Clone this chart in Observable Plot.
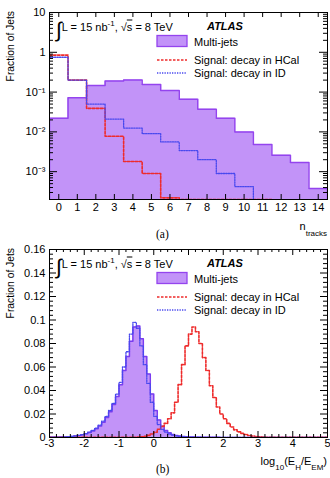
<!DOCTYPE html>
<html><head><meta charset="utf-8">
<script src="https://cdn.jsdelivr.net/npm/d3@7"></script>
<script src="https://cdn.jsdelivr.net/npm/@observablehq/plot@0.6"></script>
<style>
body{margin:0;background:#fff;font-family:"Liberation Sans",Arial,sans-serif;}
#wrap{position:relative;width:330px;height:478px;overflow:hidden;background:#fff}
#wrap svg.plot{position:absolute;left:0}
.t{position:absolute;white-space:nowrap;line-height:1;font-size:11px;color:#000;transform:translateY(-50%)}
.yt{position:absolute;white-space:nowrap;line-height:1;font-size:10.3px;transform-origin:0 0;transform:rotate(-90deg) translateX(-100%)}
.serif{font-family:"Liberation Serif","Times New Roman",serif}
sub,sup{font-size:8px;line-height:0}
</style></head><body><div id="wrap"></div>
<script>
// ---------- Panel (a): number of tracks ----------
const nTracks = [0,1,2,3,4,5,6,7,8,9,10,11,12,13,14];
const multiJetsA = [0.022,0.072,0.147,0.19,0.2,0.155,0.11,0.066,0.037,0.022,0.010,0.0048,0.0026,0.0017,0.00038];
const hcalA = [0.85,0.2,0.039,0.0078,0.0018,0.0009,0.00022,0.0002,0.0002,0.0002,0.0002,0.0002];
const idA = [0.75,0.2,0.05,0.021,0.0125,0.009,0.0056,0.0034,0.002,0.0009,0.00042];
const yTicksA = [1e-3,1e-2,1e-1,1,10];
const yTickLabelsA = ["10\u207B\u00B3","10\u207B\u00B2","10\u207B\u00B9","1","10"];

// ---------- Panel (b): log10(EH/EEM) ----------
const binStartB = d3.range(80).map(i => Math.round((-3 + i*0.1)*10)/10);
const multiJetsB = [
 0.0002,0.0003,0.0003,0.0004,0.0005,0.0007,0.0009,0.0012,0.0017,0.0023,
 0.0031,0.0042,0.0056,0.0075,0.0098,0.013,0.017,0.022,0.028,0.035,
 0.045,0.057,0.069,0.082,0.094,0.095,0.084,0.069,0.054,0.037,
 0.023,0.015,0.0095,0.006,0.004,0.0025,0.0017,0.0012,0.0009,0.0007,
 0.0005,0.0004,0.0003,0.0003,0.00025,0.0002,0.00018,0.00015,0.00012,0.0001,
 0.0001,0.00009,0.00008,0.00007,0.00006,0.00005,0.00005,0.00004,0.00004,0.00003,
 0.00003,0.00003,0.00002,0.00002,0.00002,0.00002,0.00002,0.00001,0.00001,0.00001,
 0.00001,0.00001,0.00001,0.00001,0.00001,0.00001,0.00001,0.00001,0.00001,0.00001];
const idB = [
 0.0002,0.0003,0.0003,0.0004,0.0005,0.0007,0.0009,0.0013,0.0018,0.0025,
 0.0033,0.0045,0.006,0.008,0.0105,0.014,0.018,0.023,0.029,0.037,
 0.047,0.06,0.073,0.088,0.098,0.093,0.078,0.062,0.046,0.03,
 0.018,0.011,0.007,0.0045,0.003,0.002,0.0014,0.001,0.0007,0.0005,
 0.0004,0.0003,0.00025,0.0002,0.00015,0.00012,0.0001,0.00008,0.00006,0.00005,
 0.00004,0.00004,0.00003,0.00003,0.00002,0.00002,0.00002,0.00001,0.00001,0.00001,
 0.00001,0.00001,0.00001,0.00001,0.00001,0.00001,0.00001,0.00001,0.00001,0.00001,
 0.00001,0.00001,0.00001,0.00001,0.00001,0.00001,0.00001,0.00001,0.00001,0.00001];
const hcalB = [
 0.0001,0.0001,0.0001,0.0001,0.0001,0.0001,0.0001,0.0001,0.0001,0.0001,
 0.0001,0.0001,0.0001,0.0001,0.0001,0.0001,0.0001,0.0001,0.0001,0.0001,
 0.0001,0.0001,0.0001,0.0001,0.0002,0.0003,0.0006,0.001,0.0018,0.003,
 0.0045,0.007,0.0095,0.012,0.016,0.021,0.03,0.045,0.062,0.078,
 0.088,0.094,0.09,0.08,0.068,0.057,0.044,0.034,0.026,0.02,
 0.016,0.012,0.009,0.0065,0.0048,0.0035,0.0025,0.0017,0.0012,0.0008,
 0.0005,0.0003,0.0002,0.0002,0.0001,0.0001,0.0001,0.0001,0.0001,0.0001,
 0.0001,0.0001,0.0001,0.0001,0.0001,0.0001,0.0001,0.0001,0.0001,0.0001];
const xTicksB = [-3,-2,-1,0,1,2,3,4,5];
const yTicksB = [0,0.02,0.04,0.06,0.08,0.1,0.12,0.14,0.16];
const yTickLabelsB = ["0","0.02","0.04","0.06","0.08","0.1","0.12","0.14","0.16"];

// colours & line styles
const fillMJ = "#c293f8", strokeMJ = "#9444ee", red = "#ee2b2b", blue = "#4848ee";
const redDash = "2.5,1.5", blueDash = "1.3,1.2";

function stepPts(starts, vals, width, floor, closeStart, closeEnd) {
  const pts = [];
  if (closeStart) pts.push({x: starts[0], y: floor});
  vals.forEach((v, i) => pts.push({x: starts[i], y: v}));
  const xe = starts[vals.length - 1] + width;
  pts.push({x: xe, y: vals[vals.length - 1]});
  if (closeEnd) pts.push({x: xe, y: floor});
  return pts;
}

const W = 330;
const font = {fontFamily: "'Liberation Sans', Arial, sans-serif", fontSize: "11px", background: "transparent"};

// ----- Plot (a) -----
const mA = {top: 12, bottom: 41, left: 49, right: 3}, HA = 240;
const fwA = W - mA.left - mA.right, fhA = HA - mA.top - mA.bottom;
const floorA = 2e-4;
const edgesA = nTracks.map(n => n - 0.5);
const mjPtsA = stepPts(edgesA, multiJetsA, 1, floorA, true, true);
const hcPtsA = stepPts(edgesA, hcalA, 1, floorA, false, true);
const idPtsA = stepPts(edgesA, idA, 1, floorA, false, true);
const minorA = [];
[1e-4,1e-3,1e-2,1e-1,1].forEach(d => [2,3,4,5,6,7,8,9].forEach(k => { const v = d*k; if (v > floorA && v < 10) minorA.push(v); }));

const plotA = Plot.plot({
  width: W, height: HA,
  marginTop: mA.top, marginBottom: mA.bottom, marginLeft: mA.left, marginRight: mA.right,
  style: font,
  x: {domain: [-0.5, 14.5], axis: null},
  y: {type: "log", domain: [floorA, 10], axis: null},
  marks: [
    Plot.areaY(mjPtsA, {x: "x", y1: floorA, y2: "y", curve: "step-after", fill: fillMJ, clip: true}),
    Plot.line(mjPtsA, {x: "x", y: "y", curve: "step-after", stroke: strokeMJ, strokeWidth: 1.5, clip: true}),
    Plot.line(hcPtsA, {x: "x", y: "y", curve: "step-after", stroke: red, strokeWidth: 1.6, strokeDasharray: redDash, clip: true}),
    Plot.line(idPtsA, {x: "x", y: "y", curve: "step-after", stroke: blue, strokeWidth: 1.3, strokeDasharray: blueDash, clip: true}),
    Plot.ruleX(nTracks, {x: d => d, insetTop: fhA - 5, stroke: "#000"}),
    Plot.ruleX(nTracks, {x: d => d, insetBottom: fhA - 5, stroke: "#000"}),
    Plot.ruleY(yTicksA.filter(d => d < 10), {y: d => d, insetRight: fwA - 8, stroke: "#000"}),
    Plot.ruleY(yTicksA.filter(d => d < 10), {y: d => d, insetLeft: fwA - 8, stroke: "#000"}),
    Plot.ruleY(minorA, {y: d => d, insetRight: fwA - 4, stroke: "#000"}),
    Plot.ruleY(minorA, {y: d => d, insetLeft: fwA - 4, stroke: "#000"}),
    Plot.frame({stroke: "#000", strokeWidth: 1}),
    Plot.axisX({ticks: nTracks, tickSize: 0, tickPadding: 4, tickFormat: d => String(d), label: null}),
    Plot.axisY({ticks: yTicksA, tickSize: 0, tickPadding: 4, tickFormat: d => yTickLabelsA[yTicksA.indexOf(d)], label: null})
  ]
});

// ----- Plot (b) -----
const mB = {top: 9, bottom: 41, left: 49, right: 3}, HB = 238;
const fwB = W - mB.left - mB.right, fhB = HB - mB.top - mB.bottom;
const mjPtsB = stepPts(binStartB, multiJetsB, 0.1, 0, false, false);
const hcPtsB = stepPts(binStartB, hcalB, 0.1, 0, false, false);
const idPtsB = stepPts(binStartB, idB, 0.1, 0, false, false);
const minorXB = d3.range(-3, 5.001, 0.2).map(v => Math.round(v*10)/10).filter(v => !Number.isInteger(v));
const minorYB = d3.range(0, 0.1601, 0.004).map(v => Math.round(v*1000)/1000).filter(v => Math.round(v*1000) % 20 !== 0);

const plotB = Plot.plot({
  width: W, height: HB,
  marginTop: mB.top, marginBottom: mB.bottom, marginLeft: mB.left, marginRight: mB.right,
  style: font,
  x: {domain: [-3, 5], axis: null},
  y: {domain: [0, 0.16], axis: null},
  marks: [
    Plot.areaY(mjPtsB, {x: "x", y1: 0, y2: "y", curve: "step-after", fill: fillMJ, clip: true}),
    Plot.line(mjPtsB, {x: "x", y: "y", curve: "step-after", stroke: "#7a3cf0", strokeWidth: 1.5, clip: true}),
    Plot.line(hcPtsB, {x: "x", y: "y", curve: "step-after", stroke: red, strokeWidth: 1.6, strokeDasharray: redDash, clip: true}),
    Plot.line(idPtsB, {x: "x", y: "y", curve: "step-after", stroke: blue, strokeWidth: 1.3, strokeDasharray: blueDash, clip: true}),
    Plot.ruleX(xTicksB, {x: d => d, insetTop: fhB - 6, stroke: "#000"}),
    Plot.ruleX(xTicksB, {x: d => d, insetBottom: fhB - 6, stroke: "#000"}),
    Plot.ruleX(minorXB, {x: d => d, insetTop: fhB - 3, stroke: "#000"}),
    Plot.ruleX(minorXB, {x: d => d, insetBottom: fhB - 3, stroke: "#000"}),
    Plot.ruleY(yTicksB, {y: d => d, insetRight: fwB - 7, stroke: "#000"}),
    Plot.ruleY(yTicksB, {y: d => d, insetLeft: fwB - 7, stroke: "#000"}),
    Plot.ruleY(minorYB, {y: d => d, insetRight: fwB - 4, stroke: "#000"}),
    Plot.ruleY(minorYB, {y: d => d, insetLeft: fwB - 4, stroke: "#000"}),
    Plot.frame({stroke: "#000", strokeWidth: 1}),
    Plot.axisX({ticks: xTicksB, tickSize: 0, tickPadding: 2, tickFormat: d => String(d), label: null}),
    Plot.axisY({ticks: yTicksB, tickSize: 0, tickPadding: 4, tickFormat: d => yTickLabelsB[yTicksB.indexOf(d)], label: null})
  ]
});

const wrap = document.getElementById("wrap");
plotA.classList.add("plot"); plotA.style.top = "0px";
plotB.classList.add("plot"); plotB.style.top = HA + "px";
wrap.appendChild(plotA);
wrap.appendChild(plotB);

function legendHTML(dy) {
  return `
  <div class="t" style="left:56px;top:${28+dy}px;"><span style="font-size:21px;font-weight:300;vertical-align:middle;position:relative;top:1px">&#8747;</span>L = 15 nb<sup>-1</sup>, &#8730;<span style="text-decoration:overline">s</span> = 8 TeV</div>
  <div class="t" style="left:207px;top:${26+dy}px;font-weight:bold;font-style:italic;">ATLAS</div>
  <svg style="position:absolute;left:156px;top:${34+dy}px" width="34" height="44">
    <rect x="1" y="1.5" width="30" height="11" fill="${fillMJ}" stroke="${strokeMJ}" stroke-width="1.3"/>
    <line x1="1" x2="31" y1="26" y2="26" stroke="${red}" stroke-width="1.6" stroke-dasharray="${redDash}"/>
    <line x1="1" x2="31" y1="39" y2="39" stroke="${blue}" stroke-width="1.3" stroke-dasharray="${blueDash}"/>
  </svg>
  <div class="t" style="left:194px;top:${42+dy}px;">Multi-jets</div>
  <div class="t" style="left:194px;top:${60+dy}px;">Signal: decay in HCal</div>
  <div class="t" style="left:194px;top:${73+dy}px;">Signal: decay in ID</div>`;
}
const ann = document.createElement("div");
ann.innerHTML = `
  <div class="yt" style="left:6px;top:11px;">Fraction of Jets</div>
  <div class="yt" style="left:6px;top:248px;">Fraction of Jets</div>
  ${legendHTML(0)}
  ${legendHTML(237)}
  <div class="t" style="right:3px;top:226px;">n<sub style="position:relative;top:3px">tracks</sub></div>
  <div class="t serif" style="left:156px;top:235px;font-size:11.5px;">(a)</div>
  <div class="t" style="right:3px;top:461px;">log<sub style="position:relative;top:2px">10</sub>(E<sub style="position:relative;top:2px">H</sub>/E<sub style="position:relative;top:2px">EM</sub>)</div>
  <div class="t serif" style="left:156px;top:470px;font-size:11.5px;">(b)</div>`;
wrap.appendChild(ann);
</script></body></html>
